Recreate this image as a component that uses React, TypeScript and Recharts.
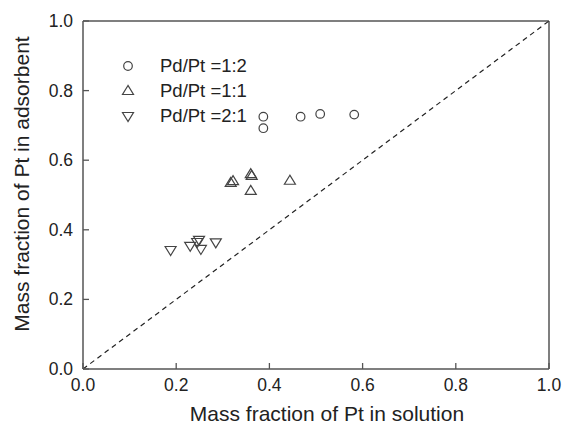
import React from 'react';
import { ScatterChart, Scatter, XAxis, YAxis, ReferenceLine, Legend } from 'recharts';

// Pd/Pt = 1:2 (circles)
const ratio12X = [0.387, 0.387, 0.467, 0.509, 0.582];
const ratio12Y = [0.725, 0.692, 0.725, 0.733, 0.731];

// Pd/Pt = 1:1 (up triangles)
const ratio11X = [0.317, 0.322, 0.36, 0.362, 0.36, 0.444];
const ratio11Y = [0.535, 0.54, 0.56, 0.555, 0.512, 0.541];

// Pd/Pt = 2:1 (down triangles)
const ratio21X = [0.188, 0.23, 0.245, 0.249, 0.253, 0.285];
const ratio21Y = [0.342, 0.354, 0.365, 0.371, 0.345, 0.364];

const ticks = [0, 0.2, 0.4, 0.6, 0.8, 1.0];

const zip = (xs: number[], ys: number[]) => xs.map((x, i) => ({ x, y: ys[i] }));

const INK = '#222';
const AXIS = '#555';
const MARK = '#444';
const FONT = 'Arial, "Liberation Sans", Helvetica, sans-serif';

const drawMarker = (kind: string, cx: number, cy: number) => {
  if (kind === 'circle') {
    return <circle cx={cx} cy={cy} r={4.3} fill="none" stroke={MARK} strokeWidth={1.2} />;
  }
  const h = 5.5;
  const pts =
    kind === 'up'
      ? `${cx},${cy - h} ${cx - h},${cy + 3.5} ${cx + h},${cy + 3.5}`
      : `${cx},${cy + h} ${cx - h},${cy - 3.5} ${cx + h},${cy - 3.5}`;
  return <polygon points={pts} fill="none" stroke={MARK} strokeWidth={1.2} />;
};

const series = [
  { name: 'Pd/Pt =1:2', kind: 'circle', data: zip(ratio12X, ratio12Y) },
  { name: 'Pd/Pt =1:1', kind: 'up', data: zip(ratio11X, ratio11Y) },
  { name: 'Pd/Pt =2:1', kind: 'down', data: zip(ratio21X, ratio21Y) },
];

const XTick = (props: any) => {
  const { x, y, payload } = props;
  return (
    <g>
      <line x1={x} x2={x} y1={y} y2={y - 6} stroke={AXIS} strokeWidth={1.3} />
      <text x={x} y={y + 22} textAnchor="middle" fontSize={17.5} fill={INK} fontFamily={FONT}>
        {Number(payload.value).toFixed(1)}
      </text>
    </g>
  );
};

const YTick = (props: any) => {
  const { x, y, payload } = props;
  return (
    <g>
      <line x1={x} x2={x + 6} y1={y} y2={y} stroke={AXIS} strokeWidth={1.3} />
      <text x={x - 10} y={y + 6} textAnchor="end" fontSize={17.5} fill={INK} fontFamily={FONT}>
        {Number(payload.value).toFixed(1)}
      </text>
    </g>
  );
};

const LegendBox = () => (
  <div style={{ fontFamily: FONT, fontSize: 18.5, color: INK }}>
    {series.map((s) => (
      <div key={s.name} style={{ display: 'flex', alignItems: 'center', height: 25.3 }}>
        <svg width={20} height={20} style={{ marginRight: 22 }}>
          {drawMarker(s.kind, 10, 10)}
        </svg>
        <span>{s.name}</span>
      </div>
    ))}
  </div>
);

export default function App() {
  return (
    <div style={{ position: 'absolute', left: 0, top: 0, width: 563, height: 427, background: '#fff' }}>
      <ScatterChart width={563} height={427} margin={{ top: 21, right: 14, bottom: 0, left: 0 }}>
        <XAxis
          type="number"
          dataKey="x"
          domain={[0, 1]}
          ticks={ticks}
          height={58}
          tickSize={0}
          tickMargin={0}
          tick={<XTick />}
          axisLine={{ stroke: AXIS, strokeWidth: 1.5 }}
          tickLine={false}
          label={{
            content: (p: any) => {
              const vb = p.viewBox;
              return (
                <text x={vb.x + vb.width / 2 + 11} y={vb.y + 52} textAnchor="middle" fontSize={21} fill={INK} fontFamily={FONT}>
                  Mass fraction of Pt in solution
                </text>
              );
            },
          }}
        />
        <YAxis
          type="number"
          dataKey="y"
          domain={[0, 1]}
          ticks={ticks}
          width={83}
          tickSize={0}
          tickMargin={0}
          tick={<YTick />}
          axisLine={{ stroke: AXIS, strokeWidth: 1.5 }}
          tickLine={false}
          label={{
            content: (p: any) => {
              const vb = p.viewBox;
              const cx = 29;
              const cy = vb.y + vb.height / 2 - 11;
              return (
                <text x={cx} y={cy} transform={`rotate(-90, ${cx}, ${cy})`} textAnchor="middle" fontSize={21} fill={INK} fontFamily={FONT}>
                  Mass fraction of Pt in adsorbent
                </text>
              );
            },
          }}
        />
        <ReferenceLine y={1} stroke={AXIS} strokeWidth={1.5} />
        <ReferenceLine x={1} stroke={AXIS} strokeWidth={1.5} />
        <ReferenceLine
          segment={[{ x: 0, y: 0 }, { x: 1, y: 1 }]}
          stroke={INK}
          strokeWidth={1.2}
          strokeDasharray="5 4"
        />
        {series.map((s) => (
          <Scatter
            key={s.name}
            name={s.name}
            data={s.data}
            isAnimationActive={false}
            shape={(p: any) => drawMarker(s.kind, p.cx, p.cy)}
          />
        ))}
        <Legend
          layout="vertical"
          align="center"
          verticalAlign="middle"
          content={<LegendBox />}
          wrapperStyle={{ position: 'absolute', left: 118, top: 53, width: 200 }}
        />
      </ScatterChart>
    </div>
  );
}
